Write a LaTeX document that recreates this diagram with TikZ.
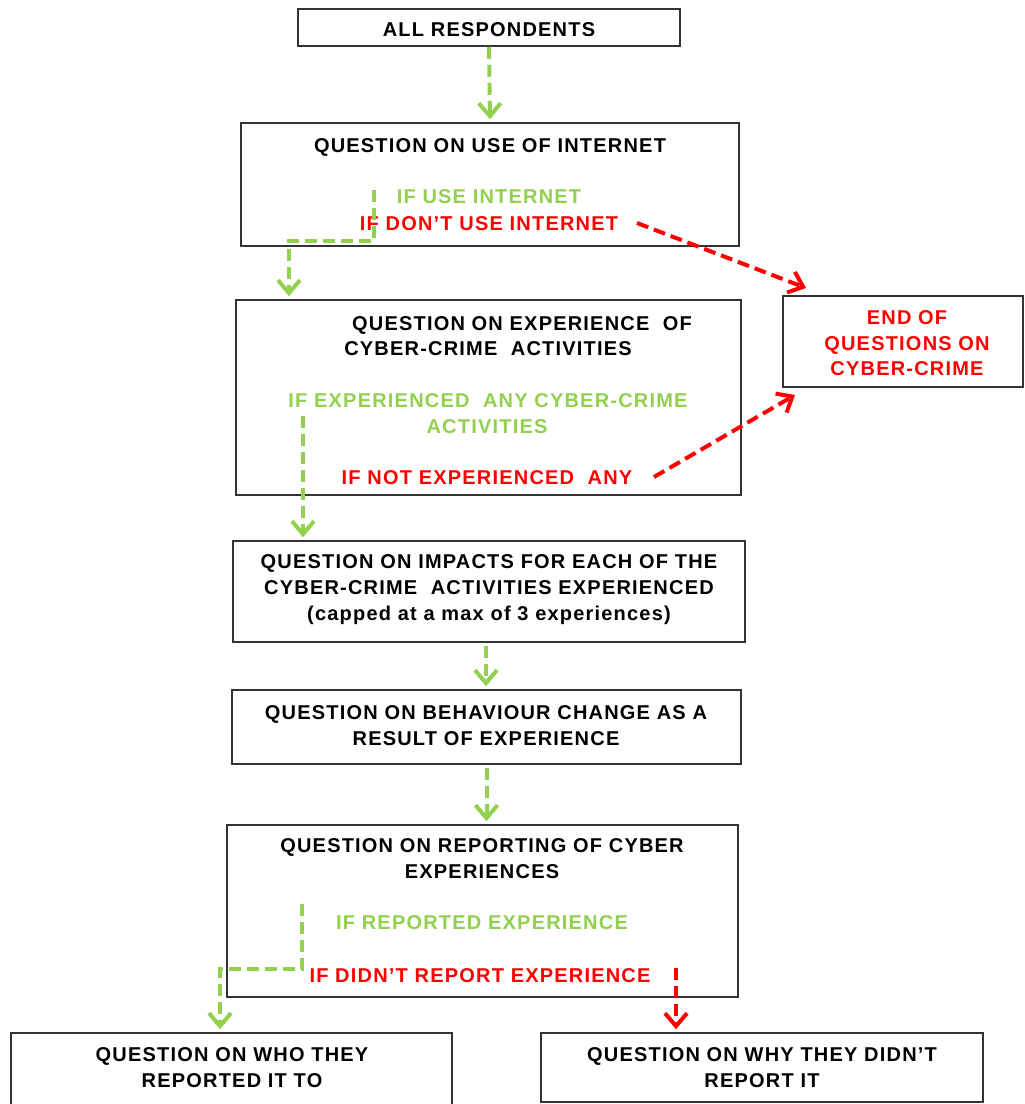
\documentclass[tikz,border=0pt]{standalone}
\usepackage{fontspec}
\setmainfont{Liberation Sans}[LetterSpace=6]
\usetikzlibrary{arrows.meta}
\definecolor{cgreen}{HTML}{92D050}
\definecolor{cred}{HTML}{FF0000}
\begin{document}
\begin{tikzpicture}[x=1pt,y=-1pt,
  box/.style={draw=black!80, line width=1.5pt, inner sep=0pt},
  lbl/.style={font=\fontsize{20}{26}\selectfont\bfseries, inner sep=0pt, anchor=base},
  glbl/.style={lbl, text=cgreen},
  rlbl/.style={lbl, text=cred},
  tip/.style={-{Straight Barb[length=13pt,width=22pt,line width=4pt]}},
  gline/.style={draw=cgreen, line width=4pt, dash pattern=on 12pt off 6pt, tip},
  rline/.style={draw=cred, line width=4pt, dash pattern=on 12pt off 6pt, tip}]
\useasboundingbox (0,0) rectangle (1025,1104);
\fill[white] (0,0) rectangle (1025,1104);

% boxes
\node[box, minimum width=382pt, minimum height=37pt] (all) at (489,27.5) {};
\node[box, minimum width=498pt, minimum height=123pt] (inet) at (490,184.5) {};
\node[box, minimum width=505pt, minimum height=195pt] (exp) at (488.5,397.5) {};
\node[box, minimum width=240pt, minimum height=91pt] (endq) at (903,341.5) {};
\node[box, minimum width=512pt, minimum height=101pt] (imp) at (489,591.5) {};
\node[box, minimum width=509pt, minimum height=74pt] (beh) at (486.5,727) {};
\node[box, minimum width=511pt, minimum height=172pt] (rep) at (482.5,911) {};
\node[box, minimum width=441pt, minimum height=72pt] (who) at (231.5,1069) {};
\node[box, minimum width=442pt, minimum height=69pt] (why) at (762,1067.5) {};

% texts
\node[lbl] (tall) at (489,36) {ALL RESPONDENTS};
\node[lbl] (tinet) at (490,152) {QUESTION ON USE OF INTERNET};
\node[glbl] (tuse) at (489,203) {IF USE INTERNET};
\node[rlbl] (tnouse) at (489,230) {IF DON’T USE INTERNET};
\node[lbl] (texpa) at (522,330) {QUESTION ON EXPERIENCE\ \ OF};
\node[lbl] (texpb) at (488,355) {CYBER-CRIME\ \ ACTIVITIES};
\node[glbl] (tyesa) at (488,407) {IF EXPERIENCED\ \ ANY CYBER-CRIME};
\node[glbl] (tyesb) at (487,433) {ACTIVITIES};
\node[rlbl] (tnoexp) at (487,484) {IF NOT EXPERIENCED\ \ ANY};
\node[rlbl] (tenda) at (907,324) {END OF};
\node[rlbl] (tendb) at (907,350) {QUESTIONS ON};
\node[rlbl] (tendc) at (907,375) {CYBER-CRIME};
\node[lbl] (timpa) at (489,568) {QUESTION ON IMPACTS FOR EACH OF THE};
\node[lbl] (timpb) at (489,594) {CYBER-CRIME\ \ ACTIVITIES EXPERIENCED};
\node[lbl] (timpc) at (489,620) {(capped at a max of 3 experiences)};
\node[lbl] (tbeha) at (486,719) {QUESTION ON BEHAVIOUR CHANGE AS A};
\node[lbl] (tbehb) at (486,745) {RESULT OF EXPERIENCE};
\node[lbl] (trepa) at (482,852) {QUESTION ON REPORTING OF CYBER};
\node[lbl] (trepb) at (482,878) {EXPERIENCES};
\node[glbl] (tyrep) at (482,929) {IF REPORTED EXPERIENCE};
\node[rlbl] (tnrep) at (480,982) {IF DIDN’T REPORT EXPERIENCE};
\node[lbl] (twhoa) at (232,1061) {QUESTION ON WHO THEY};
\node[lbl] (twhob) at (232,1087) {REPORTED IT TO};
\node[lbl] (twhya) at (762,1061) {QUESTION ON WHY THEY DIDN’T};
\node[lbl] (twhyb) at (762,1087) {REPORT IT};

% connector coordinates
\coordinate (g2s) at (374,190);
\coordinate (g2b) at (289,241);
\coordinate (r1s) at (637,223);
\coordinate (r1e) at (806,288);
\coordinate (r2s) at (654,477);
\coordinate (r2e) at (795,395);
\coordinate (g5s) at (303,416);
\coordinate (g8s) at (302,904);
\coordinate (g8b) at (220,969);
\coordinate (r9s) at (676,968);

% connectors
\draw[gline, shorten >=3pt] (all.south) -- (inet.north);
\draw[gline, shorten >=3pt] (g2s) |- (g2b) -- (g2b |- exp.north);
\draw[rline] (r1s) -- (r1e);
\draw[rline] (r2s) -- (r2e);
\draw[gline, shorten >=3pt] (g5s) -- (g5s |- imp.north);
\draw[gline, shorten >=3pt, shorten <=3pt] (imp.south -| 486,0) -- (beh.north -| 486,0);
\draw[gline, shorten >=3pt, shorten <=3pt] (beh.south) -- (beh.south |- rep.north);
\draw[gline, shorten >=3pt] (g8s) |- (g8b) -- (g8b |- who.north);
\draw[rline, shorten >=3pt] (r9s) -- (r9s |- why.north);
\end{tikzpicture}
\end{document}
